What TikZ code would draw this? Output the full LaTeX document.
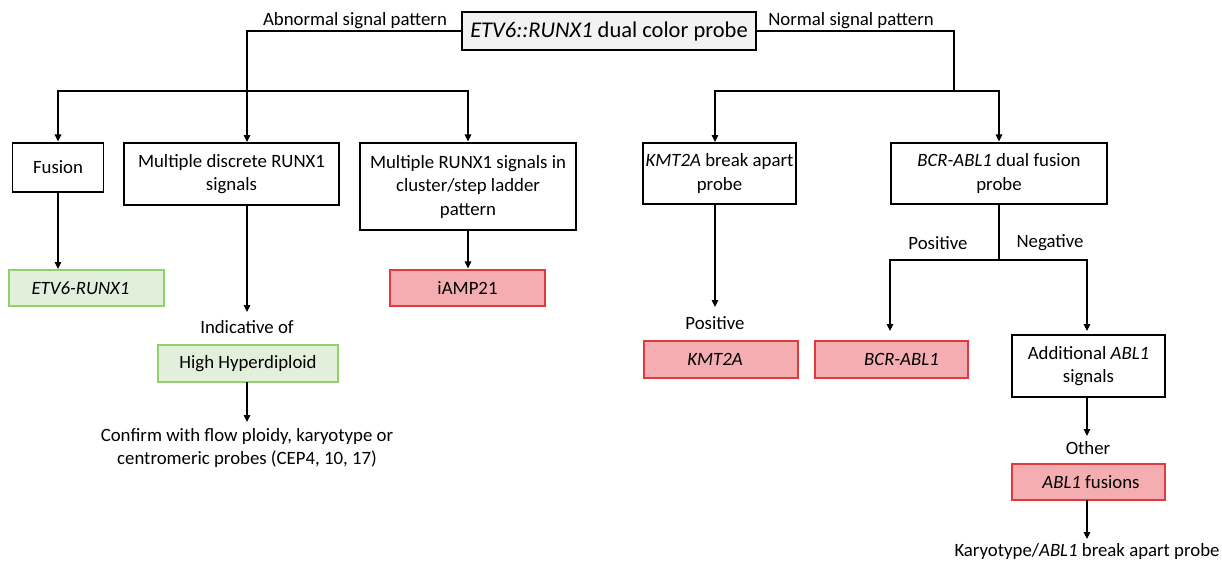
\documentclass[tikz,border=0pt]{standalone}
\usepackage{fontspec}
\setmainfont{Carlito}
\usetikzlibrary{arrows.meta}
\definecolor{gfill}{HTML}{E2EFDA}
\definecolor{gdraw}{HTML}{92D06A}
\definecolor{rfill}{HTML}{F4ADB1}
\definecolor{rdraw}{HTML}{E0393E}
\definecolor{tfill}{HTML}{F2F2F2}
\begin{document}
\begin{tikzpicture}[x=1pt,y=-1pt,
  every node/.style={font=\fontsize{18.8}{23.5}\selectfont, inner sep=0pt, align=center},
  box/.style={draw=black, line width=1.1pt, rectangle},
  gbox/.style={draw=gdraw, fill=gfill, line width=1.1pt, rectangle},
  rbox/.style={draw=rdraw, fill=rfill, line width=1.1pt, rectangle},
  conn/.style={line width=1.1pt},
  arr/.style={line width=1.1pt, -{Triangle[length=7pt,width=6.5pt]}, shorten >=1pt},
  lbl/.style={}]
\useasboundingbox (0,0) rectangle (1222,560);
% title
\node[box, fill=tfill, minimum width=294pt, minimum height=38pt, font=\fontsize{22.5}{26}\selectfont] (title) at (609,31) {\textit{ETV6::RUNX1} dual color probe};
\node[lbl] (abn) at (355,21) {Abnormal signal pattern};
\node[lbl] (nor) at (851,21) {Normal signal pattern};
% row 1
\node[box, minimum width=91pt, minimum height=49pt] (fusion) at (58,167.5) {Fusion};
\node[box, minimum width=215pt, minimum height=62pt] (disc) at (231.5,174) {Multiple discrete RUNX1\\signals};
\node[box, minimum width=216pt, minimum height=87pt] (clus) at (468,186.5) {Multiple RUNX1 signals in\\cluster/step ladder\\pattern};
\node[box, minimum width=153pt, minimum height=61pt] (kprobe) at (719.5,173.5) {\textit{KMT2A} break apart\\probe};
\node[box, minimum width=216pt, minimum height=61pt] (bprobe) at (999,173.5) {\textit{BCR-ABL1} dual fusion\\probe};
% row 2
\node[gbox, minimum width=155pt, minimum height=36pt] (etv) at (86.5,288) {\textit{ETV6-RUNX1}\hspace*{12pt}};
\node[rbox, minimum width=155pt, minimum height=36pt] (iamp) at (467.5,288) {iAMP21};
\node[lbl] (indic) at (247,327) {Indicative of};
\node[gbox, minimum width=180pt, minimum height=37pt] (hh) at (248,363.5) {High Hyperdiploid};
\node[lbl] (confirm) at (247,448) {Confirm with flow ploidy, karyotype or\\centromeric probes (CEP4, 10, 17)};
\node[lbl] (kpos) at (715,323) {Positive};
\node[rbox, minimum width=154pt, minimum height=37pt] (kmt) at (721,359.5) {\textit{KMT2A}\hspace*{12pt}};
\node[lbl] (bpos) at (938,243) {Positive};
\node[lbl] (bneg) at (1050,243) {Negative};
\node[rbox, minimum width=153pt, minimum height=37pt] (bcr) at (891.5,359.5) {\hspace*{20pt}\textit{BCR-ABL1}};
\node[box, minimum width=153pt, minimum height=62pt] (addl) at (1088.5,366) {Additional \textit{ABL1}\\signals};
\node[lbl] (other) at (1088,448) {Other};
\node[rbox, minimum width=153pt, minimum height=36pt] (ablf) at (1088.5,482) {\hspace*{5pt}\textit{ABL1} fusions};
\node[lbl] (karyo) at (1087,551) {Karyotype/\textit{ABL1} break apart probe};
% coordinates
\coordinate (lb) at (247,91);
\coordinate (din) at (247,143);
\coordinate (rb) at (954,91);
\coordinate (kin) at (715,143);
\coordinate (etvin) at (58,270);
\coordinate (dout) at (247,205);
\coordinate (indin) at (247,313);
\coordinate (hhout) at (247,382);
\coordinate (confin) at (247,423);
\coordinate (kout) at (715,204);
\coordinate (kposin) at (715,308);
\coordinate (bb) at (999,260);
\coordinate (bin) at (890,332);
\coordinate (ain) at (1087,332);
\coordinate (aout) at (1087,397);
\coordinate (othin) at (1087,437);
\coordinate (fout) at (1087,500);
\coordinate (karin) at (1087,540);
% connectors
\draw[arr] (title.west) -| (din);
\draw[arr] (lb) -| (fusion.north);
\draw[arr] (lb) -| (clus.north);
\draw[conn] (title.east) -| (rb);
\draw[arr] (rb) -| (kin);
\draw[arr] (rb) -| (bprobe.north);
\draw[arr] (fusion.south) -- (etvin);
\draw[arr] (clus.south) -- (clus.south |- iamp.north);
\draw[arr] (dout) -- (indin);
\draw[arr] (hhout) -- (confin);
\draw[arr] (kout) -- (kposin);
\draw[conn] (bprobe.south) -- (bb);
\draw[arr] (bb) -| (bin);
\draw[arr] (bb) -| (ain);
\draw[arr] (aout) -- (othin);
\draw[arr] (fout) -- (karin);
\end{tikzpicture}
\end{document}
